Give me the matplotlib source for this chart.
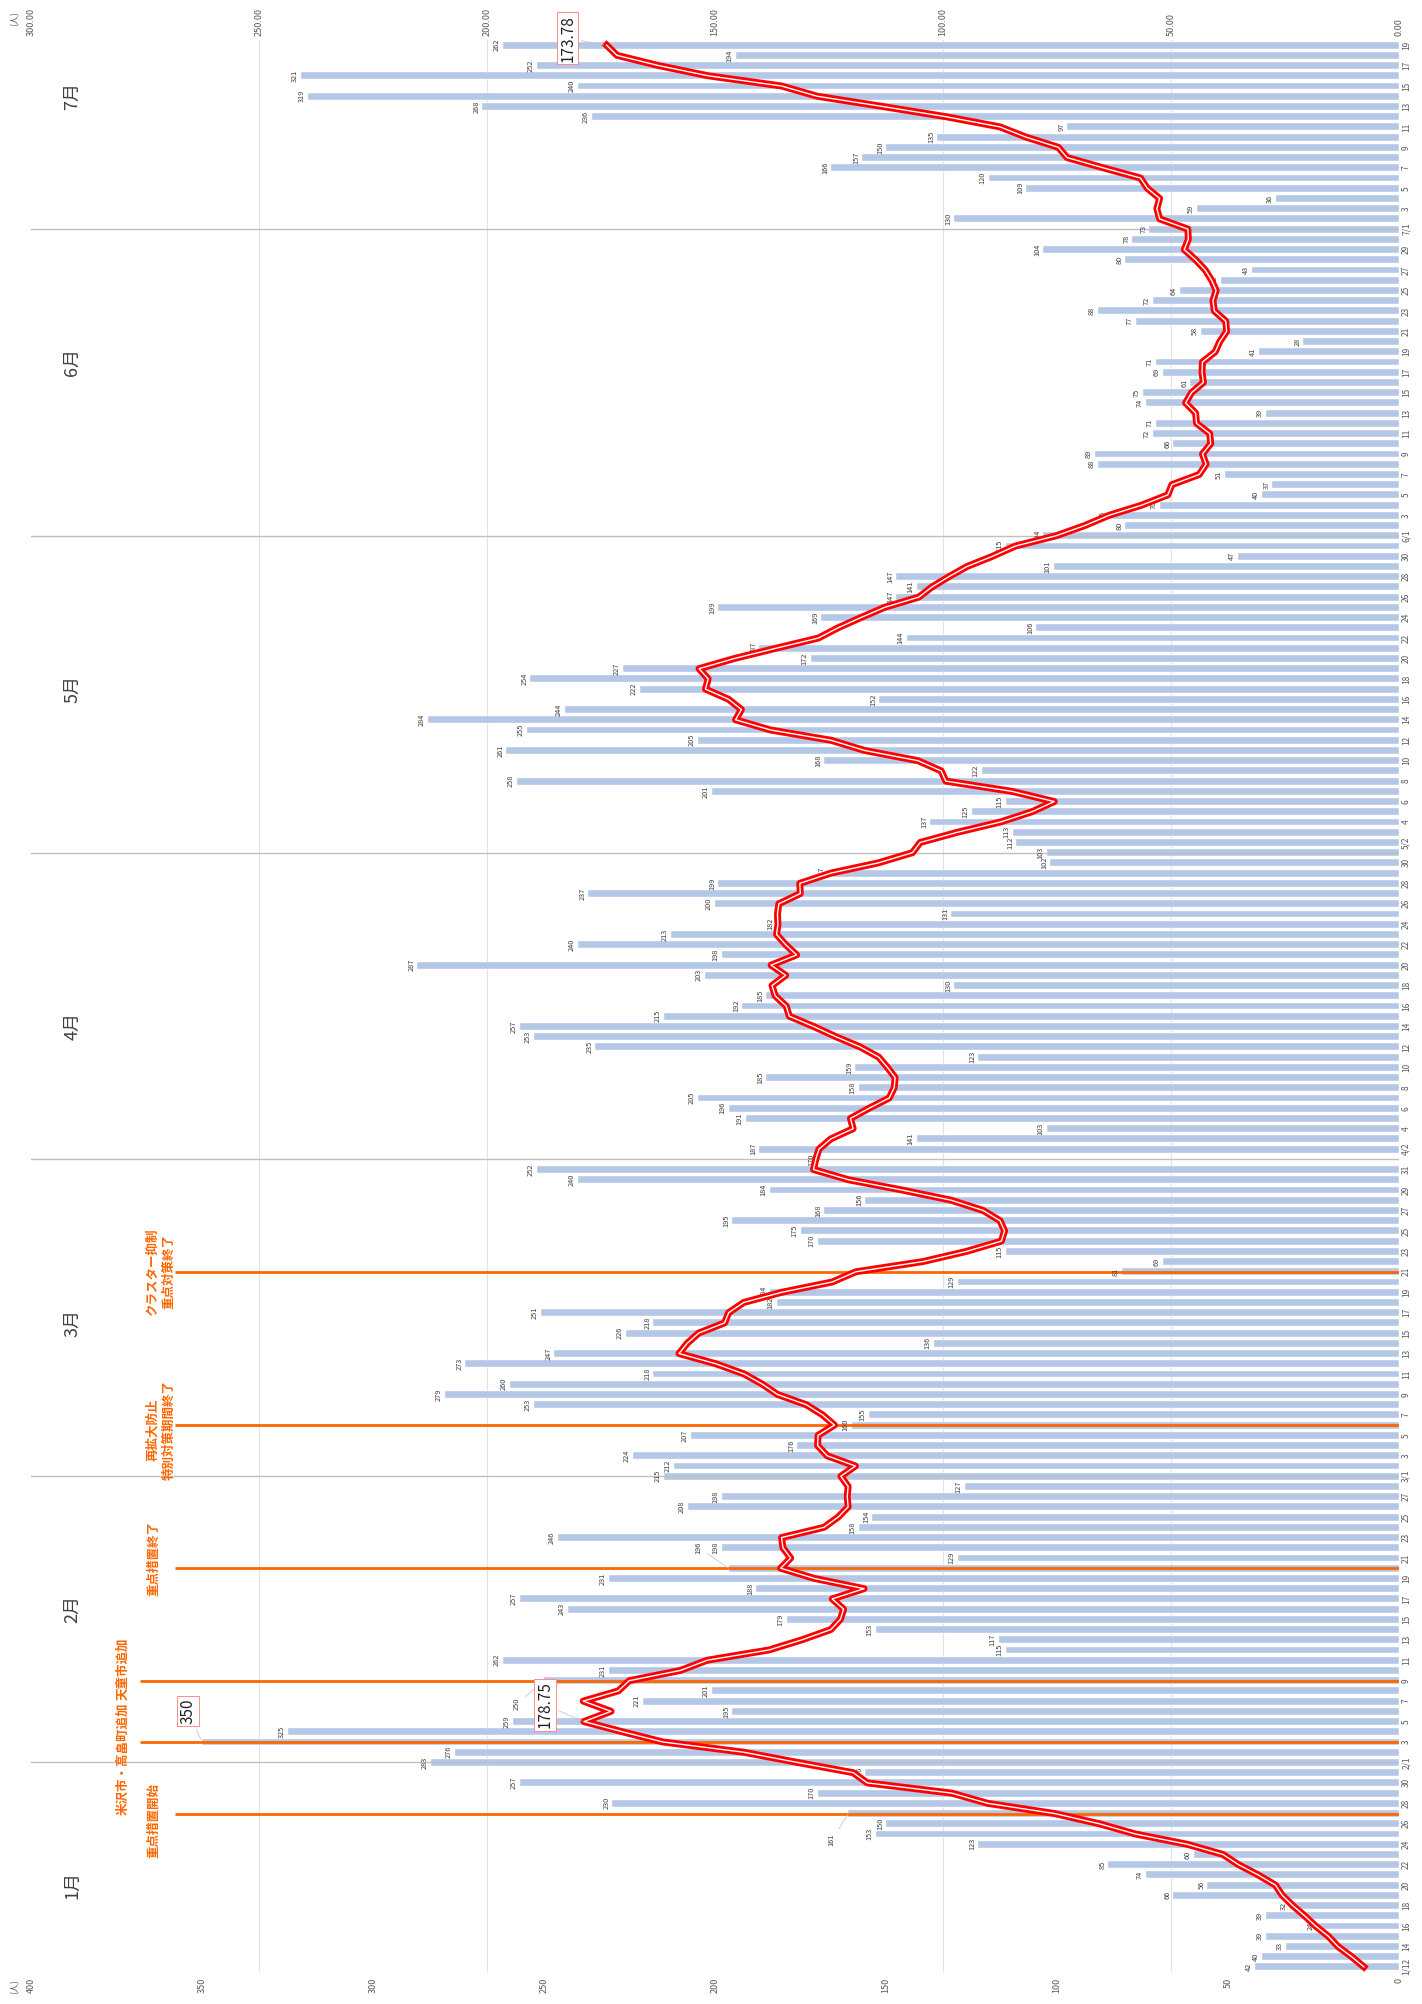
import numpy as np
import pandas as pd
import matplotlib
matplotlib.use('Agg')
import matplotlib.pyplot as plt

plt.rcParams['font.family'] = ['Noto Sans CJK JP', 'DejaVu Sans']

# daily new cases, 2021-01-12 .. 2021-07-19
dates = pd.date_range('2021-01-12', '2021-07-19')
cases = [
    42, 40, 33, 39, 24, 39, 32, 66, 56, 74, 85, 60, 123, 153, 150, 161, 230, 170, 257, 156,
    283, 276, 350, 325, 259, 195, 221, 201, 250, 231, 262, 115, 117, 153, 179, 243, 257, 188,
    231, 196, 129, 198, 246, 158, 154, 208, 198, 127,
    215, 212, 224, 176, 207, 160, 155, 253, 279, 260, 218, 273, 247, 136, 226, 218, 251, 182,
    184, 129, 81, 69, 115, 170, 175, 195, 168, 156, 184, 240, 252,
    170, 187, 141, 103, 191, 196, 205, 158, 185, 159, 123, 235, 253, 257, 215, 192, 185, 130,
    203, 287, 198, 240, 213, 182, 131, 200, 237, 199, 167, 102,
    103, 112, 113, 137, 125, 115, 201, 258, 122, 168, 261, 205, 255, 284, 244, 152, 222, 254,
    227, 172, 187, 144, 106, 169, 199, 147, 141, 147, 101, 47, 115,
    104, 80, 85, 70, 40, 37, 51, 88, 89, 66, 72, 71, 39, 74, 75, 61, 69, 71, 41, 28, 58, 77,
    88, 72, 64, 52, 43, 80, 104, 78,
    73, 130, 59, 36, 109, 120, 166, 157, 150, 135, 97, 236, 268, 319, 240, 321, 252, 194, 262,
]

# 7-day total per 100k (top axis)
rate = [
    7.7, 10.4, 13.4, 15.5, 18.3, 20.7, 23.3, 25.6, 27.1, 30.9, 35.2, 38.6, 46.5, 57.8, 65.7,
    75.5, 90.2, 98.1, 116.6, 119.7,
    131.9, 143.7, 161.4, 170.3, 178.75, 172.8, 178.9, 171.2, 168.8, 157.6, 151.7, 138.2, 130.9,
    124.6, 122.5, 121.8, 124.3, 117.3, 128.2, 135.6, 133.4, 135.1, 135.4, 126.1, 123.0, 120.8,
    121.0, 120.8,
    122.4, 119.2, 125.4, 127.5, 127.4, 123.8, 126.4, 130.0, 136.3, 139.6, 143.6, 149.8, 157.9,
    156.1, 153.6, 147.9, 147.0, 143.7, 135.3, 124.3, 119.1, 104.4, 94.8, 87.2, 86.5, 87.5,
    91.2, 98.2, 109.0, 120.7, 128.4,
    127.9, 127.2, 124.6, 119.7, 120.3, 116.2, 111.8, 110.7, 110.5, 112.2, 114.1, 118.2, 123.5,
    128.4, 133.7, 134.4, 136.8, 137.5, 134.5, 137.7, 132.1, 134.5, 136.5, 136.2, 136.3, 136.0,
    131.3, 131.4, 124.6, 114.2,
    106.7, 105.0, 96.8, 87.4, 80.5, 75.6, 84.9, 99.4, 100.4, 105.5, 117.2, 124.6, 137.8, 145.5,
    144.2, 147.0, 152.1, 151.5, 153.5, 145.7, 136.6, 127.3, 123.0, 118.0, 112.8, 105.3, 102.4,
    98.7, 94.7, 89.1, 84.1,
    75.2, 68.9, 63.6, 56.4, 50.7, 49.8, 43.8, 42.3, 43.1, 41.3, 41.5, 44.4, 44.6, 46.8, 45.5,
    42.9, 43.2, 43.1, 40.3, 39.3, 37.8, 38.0, 40.5, 40.8, 40.1, 41.1, 42.5, 44.6, 47.1, 46.2,
    46.3, 52.5, 53.1, 52.5, 55.2, 56.7, 64.9, 72.8, 74.7, 81.8, 87.5, 99.4, 113.3, 127.6,
    135.4, 151.5, 162.4, 171.5, 173.78,
]

event_dates = ['2021-01-27', '2021-02-03', '2021-02-09', '2021-02-20', '2021-03-06', '2021-03-21']
event_texts = ['重点措置開始', '米沢市・高畠町追加', '天童市追加', '重点措置終了',
               '再拡大防止\n特別対策期間終了', 'クラスター抑制\n重点対策終了']

# layout for the event notes (x in bar-axis units, y shift in days)
event_textx = [364, 373, 373, 364, 362, 362]
event_dy = [-0.7, -1.6, 1.2, 1.0, -0.5, 0.0]
event_linex = [358, 368, 368, 358, 358, 358]
month_label_day = ['2021-01-20', '2021-02-16', '2021-03-16', '2021-04-14', '2021-05-17',
                   '2021-06-18', '2021-07-14']
# data labels that were dragged away from their bar (offset in points)
moved_labels = {'2021-01-27': (-12, -19), '2021-02-09': (-20, -17), '2021-02-20': (-22, 15)}

BAR = '#b4c7e7'
ORANGE = '#ff6600'
GREY = '#595959'

n = len(cases)
y = np.arange(n)

fig = plt.figure(figsize=(14.22, 20.04), dpi=100)
ax = fig.add_axes([31 / 1422, 1 - 1972 / 2004, 1368 / 1422, 1932 / 2004])

# grid lines follow the top axis (0-300), drawn behind the bars
grid_top = np.arange(50, 300, 50)
ax.set_xticks(grid_top * 400 / 300, minor=True)
ax.grid(axis='x', which='minor', color='#e3e3e3', lw=0.8, zorder=0)
ax.tick_params(axis='x', which='minor', length=0)

heights = [0.15 if (d.month == 4 and d.day == 1) else 0.68 for d in dates]
colors = ['#d0d0d0' if (d.month == 4 and d.day == 1) else BAR for d in dates]
ax.barh(y, cases, height=heights, color=colors, edgecolor='white', linewidth=0.3, zorder=2)
ax.set_xlim(400, 0)
ax.set_ylim(-0.5, n - 0.5)

i_peak = int(np.argmax(cases))
for i, v in enumerate(cases):
    if i == i_peak:
        continue
    key = dates[i].strftime('%Y-%m-%d')
    if key in moved_labels:
        ax.annotate(str(v), (v, i), xytext=moved_labels[key], textcoords='offset points',
                    ha='center', va='center', rotation=90, fontsize=5.3, color='#404040',
                    zorder=5, arrowprops=dict(arrowstyle='-', color='#bfbfbf', lw=0.5,
                                              shrinkA=2, shrinkB=0))
    else:
        ax.annotate(str(v), (v, i), xytext=(-1.5, 0), textcoords='offset points',
                    ha='right', va='center', rotation=90, fontsize=5.3, color='#404040',
                    zorder=5)

# boxed label for the peak day
ax.annotate(str(cases[i_peak]), (cases[i_peak], i_peak), xytext=(-10, 22),
            textcoords='offset points', ha='center', va='center', rotation=90, fontsize=11,
            color='#222222', zorder=6,
            bbox=dict(boxstyle='square,pad=0.15', fc='white', ec='#ff8c8c', lw=0.7),
            arrowprops=dict(arrowstyle='-', color='#bfbfbf', lw=0.5))

ax.set_xticks(np.arange(0, 401, 50))
ax.set_xticklabels([str(v) for v in range(0, 401, 50)], rotation=90, fontsize=6.5, color=GREY)
ax.tick_params(axis='x', which='major', length=0, pad=4)

ticks = y[::2]
tick_labels = []
prev = None
for i in ticks:
    d = dates[i]
    if d.month != prev:
        tick_labels.append(f'{d.month}/{d.day}')
        prev = d.month
    else:
        tick_labels.append(str(d.day))
ax.yaxis.tick_right()
ax.set_yticks(ticks)
ax.set_yticklabels(tick_labels, rotation=90, fontsize=6, color=GREY, va='center')
ax.tick_params(axis='y', length=0, pad=2)
for s in ax.spines.values():
    s.set_visible(False)
ax.axvline(0, color='#d9d9d9', lw=0.8, zorder=3)

# month separators
for i, d in enumerate(dates):
    if d.day == 1:
        ax.axhline(i, color='#bfbfbf', lw=1.0, zorder=3)

# month names
for m, d in enumerate(month_label_day, start=1):
    ax.text(388, dates.get_loc(pd.Timestamp(d)), f'{m}月', rotation=90, ha='center',
            va='center', fontsize=13, color='#404040', zorder=6)

# events
for d, t, tx, dy, lx in zip(event_dates, event_texts, event_textx, event_dy, event_linex):
    i = dates.get_loc(pd.Timestamp(d))
    ax.hlines(i, lx, 0, color=ORANGE, lw=2.0, zorder=4)
    ax.text(tx, i + dy, t, rotation=90, ha='center', va='center', fontsize=9,
            fontweight='bold', color=ORANGE, linespacing=1.3, zorder=6)

# line on the top axis
ax2 = ax.twiny()
ax2.set_xlim(300, 0)
ax2.plot(rate, y, color='#ff0000', lw=5.0, solid_joinstyle='round', zorder=5)
ax2.plot(rate, y, color='white', lw=1.0, solid_joinstyle='round', zorder=6)
ax2.set_xticks(np.arange(0, 301, 50))
ax2.set_xticklabels([f'{v:.2f}' for v in range(0, 301, 50)], rotation=90, fontsize=6.5, color=GREY)
ax2.tick_params(axis='x', length=0, pad=3)
for s in ax2.spines.values():
    s.set_visible(False)

for i in [rate.index(178.75), n - 1]:
    ax2.annotate(f'{rate[i]:.2f}', (rate[i], i), xytext=(-28, 12 if i < n - 1 else 5),
                 textcoords='offset points', ha='center', va='center', rotation=90,
                 fontsize=11, color='#222222', zorder=7, annotation_clip=False,
                 bbox=dict(boxstyle='square,pad=0.15', fc='white', ec='#ff8c8c', lw=0.7),
                 arrowprops=dict(arrowstyle='-', color='#bfbfbf', lw=0.5))

fig.text(15 / 1422, 1 - 19 / 2004, '(人)', rotation=90, ha='center', va='center',
         fontsize=6.5, color=GREY)
fig.text(15 / 1422, 1 - 1987 / 2004, '(人)', rotation=90, ha='center', va='center',
         fontsize=6.5, color=GREY)

fig.savefig('out.png', dpi=100, facecolor='white')
